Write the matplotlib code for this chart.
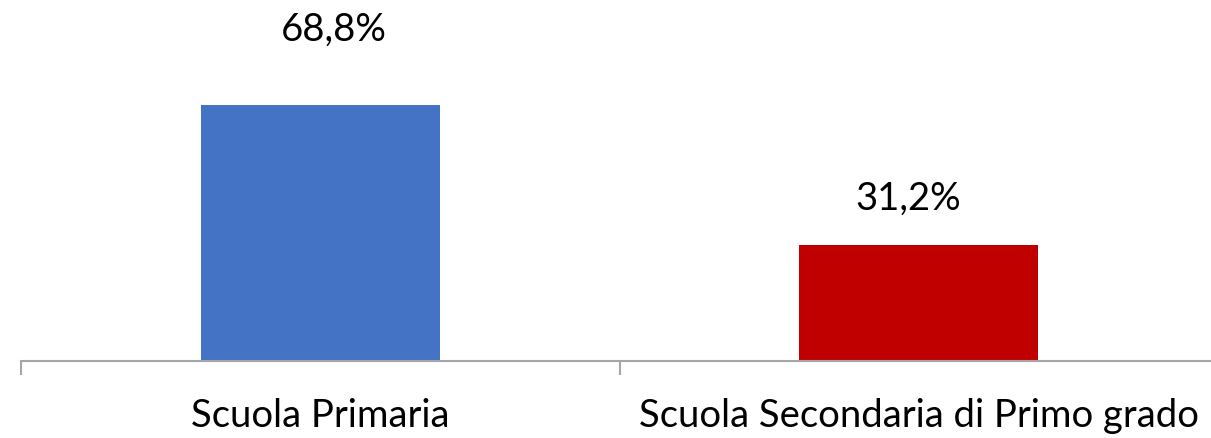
import matplotlib.pyplot as plt
import numpy as np

plt.rcParams['font.family'] = ['Lato', 'DejaVu Sans']

# Data
categories = ['Scuola Primaria', 'Scuola Secondaria di Primo grado']
values = [68.8, 31.2]
value_labels = ['68,8%', '31,2%']
colors = ['#4472C4', '#C00000']

fig = plt.figure(figsize=(12.11, 4.38), dpi=100)
ax = fig.add_axes([21 / 1211, 77.3 / 438, 1197 / 1211, 297.3 / 438])

x = np.arange(len(categories))
bars = ax.bar(x, values, width=0.4, color=colors)

# value labels (offsets in points, as placed in the original)
offsets = [(10, 54), (-7.5, 33)]
for rect, lab, off in zip(bars, value_labels, offsets):
    ax.annotate(lab, (rect.get_x() + rect.get_width() / 2, rect.get_height()),
                xytext=off, textcoords='offset points',
                ha='center', va='center', fontsize=27.5, color='black')

ax.set_xlim(-0.5, 1.5)
ax.set_ylim(0, 80)
ax.set_xticks(x)
ax.set_xticklabels(categories, fontsize=27.5)
ax.set_xticks([-0.5, 0.5, 1.5], minor=True)
ax.tick_params(axis='x', which='major', length=0, pad=27)
ax.tick_params(axis='x', which='minor', length=10, width=1.5, color='#a6a6a6')
ax.set_yticks([])

for s in ['top', 'right', 'left']:
    ax.spines[s].set_visible(False)
ax.spines['bottom'].set_color('#a6a6a6')
ax.spines['bottom'].set_linewidth(1.5)

fig.savefig('out.png', dpi=100)
